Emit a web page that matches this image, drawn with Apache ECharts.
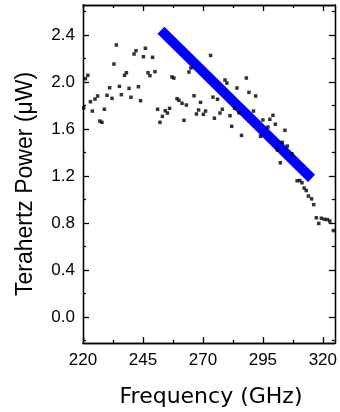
<!DOCTYPE html>
<html>
<head>
<meta charset="utf-8">
<script src="https://cdn.jsdelivr.net/npm/echarts@6/dist/echarts.min.js"></script>
<style>html,body{margin:0;padding:0;background:#fff;}#c{width:340px;height:412px;}</style>
</head>
<body>
<div id="c"></div>
<script>
// Measured frequencies (GHz)
var freq = [221.0,222.0,220.3,223.1,223.9,225.0,226.1,227.0,227.9,228.9,230.0,231.1,232.1,232.9,233.9,235.2,236.0,237.3,238.1,239.2,
240.0,241.3,242.1,243.1,244.0,245.2,246.0,247.1,247.9,249.0,250.0,251.1,252.1,253.1,254.3,255.2,256.1,257.1,257.9,259.2,
260.0,261.3,262.1,263.1,264.2,265.0,266.3,267.3,268.2,269.0,270.2,271.1,273.2,274.2,274.8,276.1,277.1,278.1,279.2,280.0,
281.3,282.0,283.2,284.2,285.0,286.1,288.1,289.2,291.1,292.0,294.0,295.0,297.1,297.9,299.2,300.2,301.1,302.3,303.1,304.2,
305.2,307.1,309.3,310.4,311.3,312.2,313.1,314.0,315.3,316.2,317.3,318.3,319.4,320.7,321.9,322.9,324.4];
// Measured terahertz power (uW)
var power = [2.028,2.057,1.779,1.832,1.753,1.855,1.881,1.668,1.657,1.768,1.887,1.951,1.861,2.153,2.315,1.963,1.892,2.057,2.079,1.946,
1.870,2.238,2.266,1.960,1.841,2.215,2.287,2.079,2.054,2.210,2.088,1.768,1.657,1.708,1.756,1.736,1.776,2.043,2.034,1.858,
1.844,1.819,1.674,1.804,2.085,2.119,1.883,1.728,1.762,1.827,1.725,1.753,2.226,1.871,1.692,1.853,1.736,1.768,2.017,1.991,
1.713,1.623,1.776,1.949,1.739,1.546,2.034,1.912,1.753,1.881,1.538,1.677,1.617,1.683,1.717,1.641,1.421,1.313,1.487,1.589,
1.455,1.390,1.160,1.162,1.143,1.098,1.077,1.030,1.006,0.957,0.845,0.797,0.841,0.832,0.830,0.817,0.736];
// Linear guide line endpoints
var fitX = [252.5, 315.3];
var fitY = [2.44, 1.18];
// Tick values
var xMajor = [220, 245, 270, 295, 320];
var xMinor = [232.5, 257.5, 282.5, 307.5];
var yMajor = [0.0, 0.4, 0.8, 1.2, 1.6, 2.0, 2.4];
var yMinor = [-0.2, 0.2, 0.6, 1.0, 1.4, 1.8, 2.2, 2.6];
var xTitle = 'Frequency (GHz)';
var yTitle = 'Terahertz Power (\u03bcW)';

var X_MIN = 220, X_MAX = 325, Y_MIN = -0.22, Y_MAX = 2.655;

var scatterData = freq.map(function (f, i) { return [f, power[i]]; });
var fitData = fitX.map(function (f, i) { return [f, fitY[i]]; });

var lineStyle = { color: '#000', width: 1.3 };
function xAx(pos, ticks, len, labels) {
  return {
    type: 'value', position: pos, min: X_MIN, max: X_MAX,
    axisLine: { show: true, onZero: false, lineStyle: lineStyle },
    axisTick: { show: true, inside: true, length: len, customValues: ticks, lineStyle: lineStyle },
    axisLabel: labels ? {
      show: true, customValues: ticks, fontSize: 17, color: '#000',
      fontFamily: 'Liberation Sans, Arial, sans-serif', margin: 9,
      formatter: function (v) { return String(v); }
    } : { show: false },
    splitLine: { show: false }
  };
}
function yAx(pos, ticks, len, labels) {
  return {
    type: 'value', position: pos, min: Y_MIN, max: Y_MAX,
    axisLine: { show: true, onZero: false, lineStyle: lineStyle },
    axisTick: { show: true, inside: true, length: len, customValues: ticks, lineStyle: lineStyle },
    axisLabel: labels ? {
      show: true, customValues: ticks, fontSize: 17, color: '#000',
      fontFamily: 'Liberation Sans, Arial, sans-serif', margin: 8,
      formatter: function (v) { return v.toFixed(1); }
    } : { show: false },
    splitLine: { show: false }
  };
}

var chart = echarts.init(document.getElementById('c'), null, { renderer: 'canvas' });
chart.setOption({
  animation: false,
  backgroundColor: '#fff',
  grid: { left: 83, right: 5, top: 5, bottom: 69, containLabel: false },
  xAxis: [
    xAx('bottom', xMajor, 6, true),
    xAx('bottom', xMinor, 3, false),
    xAx('top', xMajor, 6, false),
    xAx('top', xMinor, 3, false)
  ],
  yAxis: [
    yAx('left', yMajor, 6, true),
    yAx('left', yMinor, 3, false),
    yAx('right', yMajor, 6, false),
    yAx('right', yMinor, 3, false)
  ],
  graphic: [
    {
      type: 'text', x: 211, y: 397,
      style: { text: xTitle, fontSize: 22, fill: '#000', fontFamily: 'DejaVu Sans, sans-serif',
        textAlign: 'center', textVerticalAlign: 'middle' }
    },
    {
      type: 'text', x: 26, y: 184, rotation: Math.PI / 2,
      style: { text: yTitle, fontSize: 23, fill: '#000', fontFamily: 'Liberation Sans, Arial, sans-serif',
        textAlign: 'center', textVerticalAlign: 'middle' }
    }
  ],
  series: [
    {
      type: 'scatter', xAxisIndex: 0, yAxisIndex: 0, data: scatterData,
      symbol: 'rect', symbolSize: 3.5, itemStyle: { color: '#000' }, z: 3
    },
    {
      type: 'line', xAxisIndex: 0, yAxisIndex: 0, data: fitData,
      symbol: 'none', lineStyle: { color: '#0000ff', width: 10, cap: 'butt' }, z: 2
    }
  ]
});
</script>
</body>
</html>
